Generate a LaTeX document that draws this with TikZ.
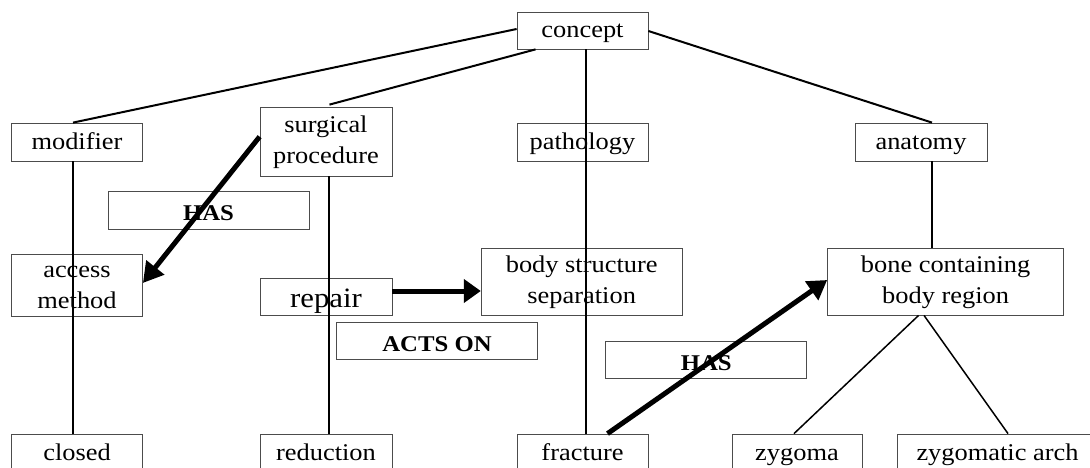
\documentclass[tikz,border=0pt]{standalone}
\usepackage{fontspec}
\setmainfont[FakeStretch=1.1]{Liberation Serif}
\usetikzlibrary{arrows.meta}
\tikzset{
  box/.style={draw=black!70, line width=0.8pt, inner sep=0pt, align=center,
    font=\fontsize{24}{31}\selectfont},
  one/.style={text height=19.6pt, text depth=5pt},
  two/.style={text height=48pt, text depth=#1},
  bx/.style 2 args={minimum width=#1pt, minimum height=#2pt},
  lab/.style={box, font=\bfseries\fontsize{22.5}{28}\selectfont, text height=26pt, text depth=5pt},
  tree/.style={line width=2pt, black},
  thin tree/.style={line width=1.5pt, black},
  rel/.style={line width=5pt, black, -{Triangle[length=20pt,width=22pt]}}
}
\begin{document}
\begin{tikzpicture}[x=1pt,y=-1pt]
\useasboundingbox (0,0) rectangle (1090,468);
\clip (0,0) rectangle (1090,468);
% nodes
\node[box,one,bx={131}{37}] (concept) at (582.5,30.5) {concept};
\node[box,one,bx={131}{38}] (modifier) at (77,142) {modifier};
\node[box,two=4.4pt,bx={132}{69}] (surgical) at (326,141.5) {surgical\\procedure};
\node[box,one,bx={131}{38}] (pathology) at (582.5,142) {pathology};
\node[box,one,bx={132}{38}] (anatomy) at (921,142) {anatomy};
\node[lab,bx={201}{38}] (has1) at (208.5,210) {HAS};
\node[box,two=2pt,bx={131}{62}] (access) at (77,285) {access\\method};
\node[box,bx={132}{37},font=\fontsize{28}{32}\selectfont,text height=26pt,text depth=4pt] (repair) at (326,296.5) {repair};
\node[box,two=3.8pt,bx={201}{67}] (body) at (581.7,281.5) {body structure\\separation};
\node[box,two=3.8pt,bx={236}{67}] (bone) at (945.6,281.5) {bone containing\\body region};
\node[lab,bx={201}{37}] (actson) at (437,340.5) {ACTS ON};
\node[lab,bx={201}{37}] (has2) at (706.3,359.5) {HAS};
\node[box,one,bx={131}{38}] (closed) at (77,453) {closed};
\node[box,one,bx={132}{38}] (reduction) at (326,453) {reduction};
\node[box,one,bx={131}{38}] (fracture) at (582.5,453) {fracture};
\node[box,one,bx={130}{38}] (zygoma) at (797,453) {zygoma};
\node[box,one,bx={201}{38}] (arch) at (997.5,453) {zygomatic arch};
% tree lines
\draw[tree] ([yshift=1.5pt]concept.west) -- ([xshift=-4pt]modifier.north);
\draw[tree] ([xshift=-47pt]concept.south) -- ([xshift=3.5pt,yshift=2pt]surgical.north);
\draw[tree] ([yshift=-0.5pt]concept.east) -- ([xshift=11pt]anatomy.north);
\draw[tree] ([xshift=3.5pt]concept.south) -- ([xshift=3.5pt]concept.south |- fracture.north);
\draw[tree] ([xshift=-4pt]modifier.south) -- ([xshift=-4pt]closed.north);
\draw[tree] ([xshift=3pt]surgical.south) -- ([xshift=3pt]reduction.north);
\draw[tree] ([xshift=11pt]anatomy.south) -- ([xshift=11pt]anatomy.south |- bone.north);
\draw[thin tree] ([xshift=-27pt]bone.south) -- ([xshift=-3pt]zygoma.north);
\draw[thin tree] ([xshift=-21.6pt]bone.south) -- ([xshift=10.5pt]arch.north);
% relations
\draw[rel] ([yshift=4.8pt]surgical.west) -- ([yshift=2pt]access.east);
\draw[rel,-{Triangle[length=17pt,width=23pt]}] ([yshift=5.5pt]repair.east) -- ([yshift=-9.5pt]body.west);
\draw[rel,-{Triangle[length=19pt,width=22pt]}] ([xshift=25pt]fracture.north) -- ([yshift=1.5pt]bone.west);
\end{tikzpicture}
\end{document}
